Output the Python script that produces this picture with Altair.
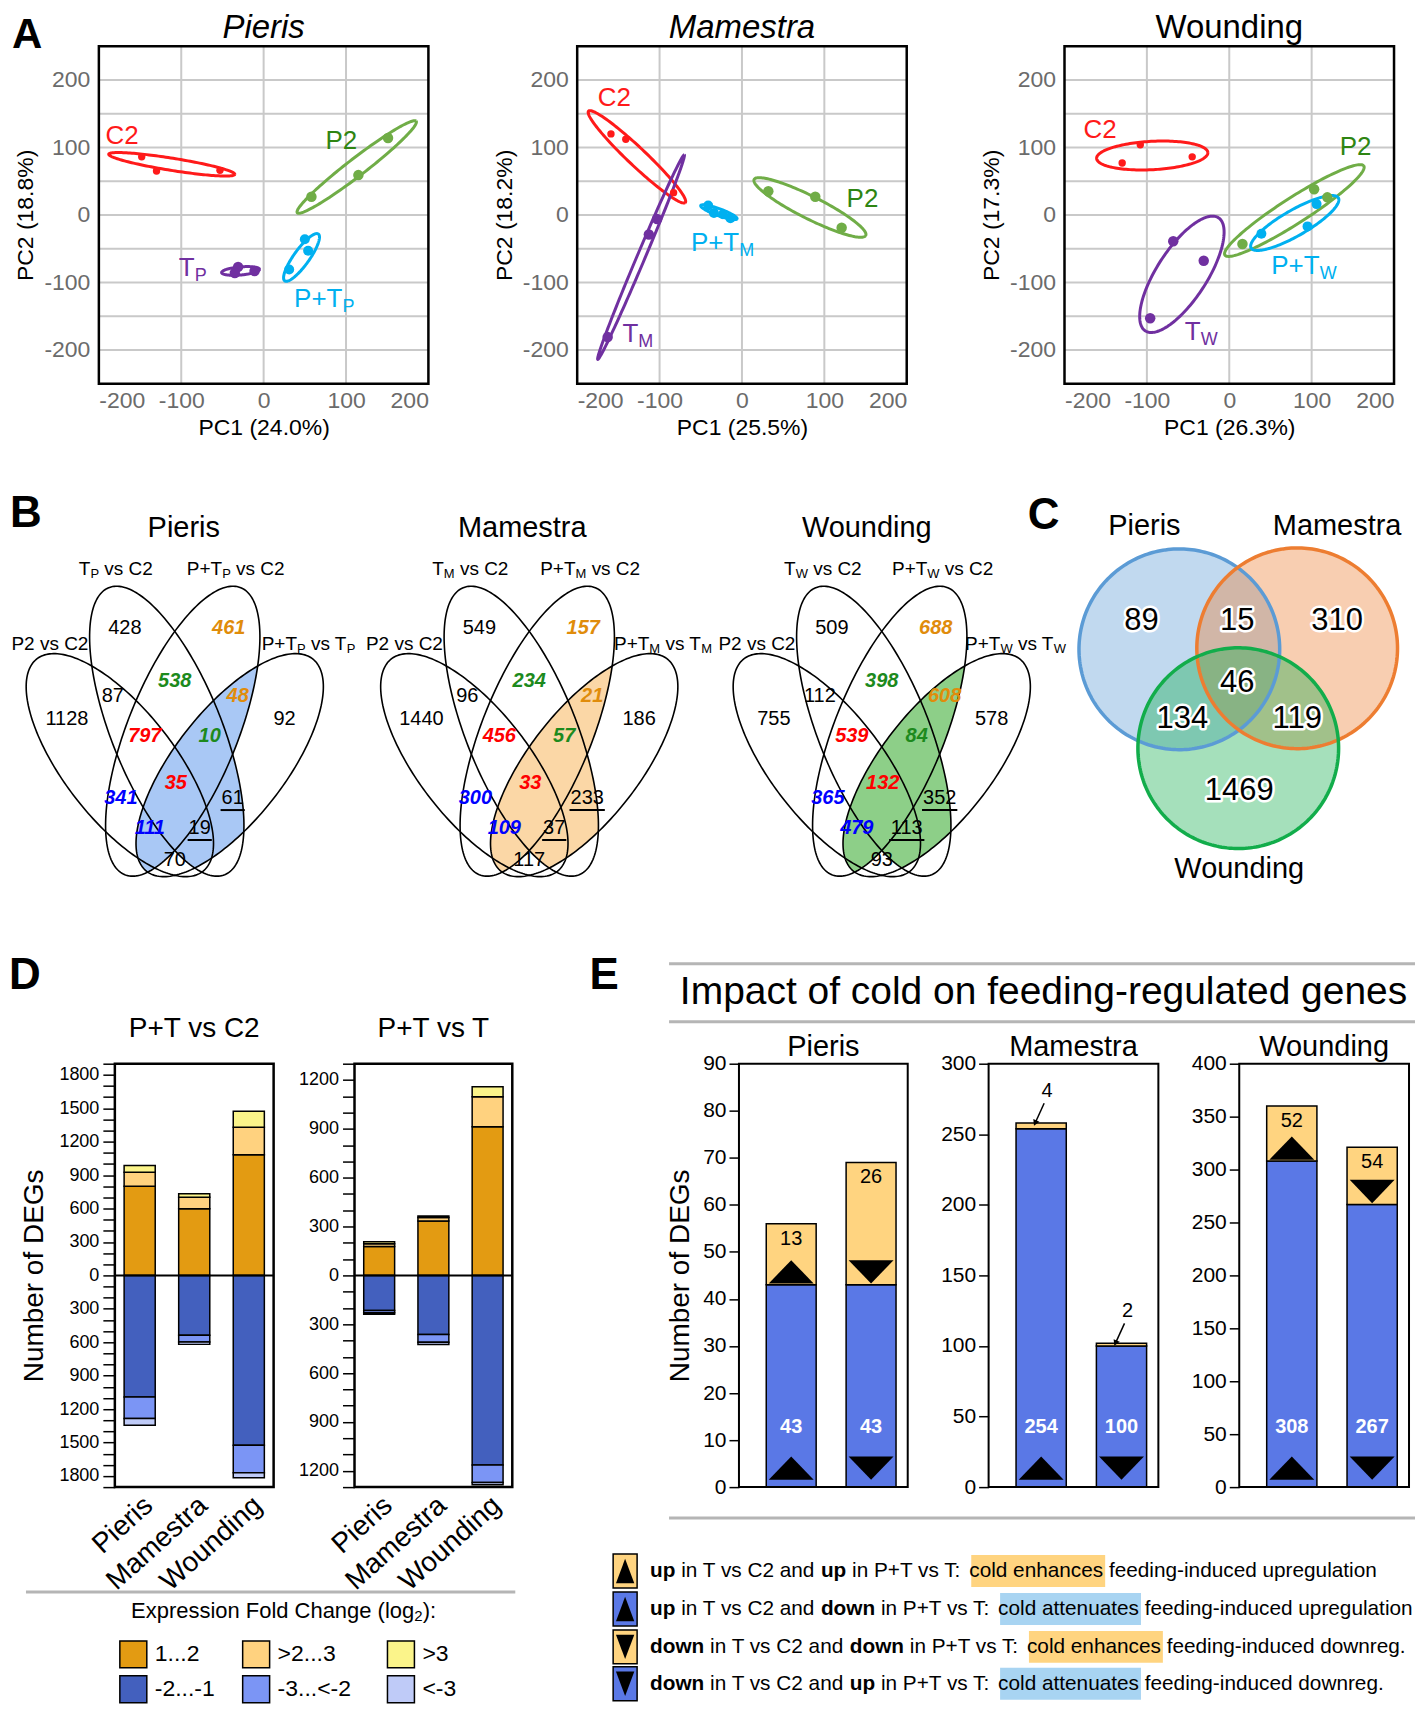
import numpy as np
import pandas as pd
import altair as alt

FONT = "Liberation Sans"

# ------------------------------------------------------------------ text metrics (Arial / Liberation Sans)
_W = {' ': 278, '!': 278, '%': 889, '(': 333, ')': 333, '+': 584, ',': 278, '-': 333, '.': 278, '/': 278,
      ':': 278, '<': 584, '>': 584, 'A': 667, 'B': 667, 'C': 722, 'D': 722, 'E': 667, 'F': 611, 'G': 778,
      'H': 722, 'I': 278, 'J': 500, 'K': 667, 'L': 556, 'M': 833, 'N': 722, 'O': 778, 'P': 667, 'R': 722,
      'S': 667, 'T': 611, 'U': 722, 'V': 667, 'W': 944, 'a': 556, 'b': 556, 'c': 500, 'd': 556, 'e': 556,
      'f': 278, 'g': 556, 'h': 556, 'i': 222, 'j': 222, 'k': 500, 'l': 222, 'm': 833, 'n': 556, 'o': 556,
      'p': 556, 'q': 556, 'r': 333, 's': 500, 't': 278, 'u': 556, 'v': 500, 'w': 722, 'x': 500, 'y': 500}
for _d in '0123456789':
    _W[_d] = 556
_WB = {'u': 611, 'p': 611, 'd': 611, 'o': 611, 'w': 778, 'n': 611, ' ': 278}


def tw(s, size, bold=False):
    tab = _WB if bold else _W
    return sum(tab.get(c, _W.get(c, 556)) for c in s) * size / 1000.0


# ================================================================== DATA
# ---------------- A: PCA
PCA_PANELS = ["Pieris", "Mamestra", "Wounding"]
PCA_ITALIC = [True, True, False]
PC1_TITLES = ["PC1 (24.0%)", "PC1 (25.5%)", "PC1 (26.3%)"]
PC2_TITLES = ["PC2 (18.8%)", "PC2 (18.2%)", "PC2 (17.3%)"]
PCA_SUBS = ["P", "M", "W"]
GROUPS = ["C2", "P2", "T", "PT"]
LABEL_MAIN = {"C2": "C2", "P2": "P2", "T": "T", "PT": "P+T"}
POINT_COL = {"C2": "#ff1a1a", "P2": "#70ad47", "T": "#7030a0", "PT": "#00b0f0"}
LABEL_COL = {"C2": "#ff1a1a", "P2": "#2e8512", "T": "#7030a0", "PT": "#00b0f0"}
POINT_SIZE = {"C2": 55, "P2": 110, "T": 110, "PT": 100}

PIERIS_PC1 = {"C2": [-148, -130, -53], "P2": [58, 115, 151], "T": [-31, -35, -11], "PT": [50, 54, 31]}
PIERIS_PC2 = {"C2": [86, 65, 66], "P2": [27, 59, 114], "T": [-77, -86, -83], "PT": [-36, -53, -81]}
MAMESTRA_PC1 = {"C2": [-159, -141, -83], "P2": [32, 89, 121], "T": [-163, -113, -103], "PT": [-41, -34, -23, -14]}
MAMESTRA_PC2 = {"C2": [120, 112, 33], "P2": [35, 27, -19], "T": [-181, -29, -6], "PT": [14, 3, 1, -5]}
WOUNDING_PC1 = {"C2": [-130, -108, -45], "P2": [16, 103, 119], "T": [-68, -31, -96], "PT": [39, 95, 106]}
WOUNDING_PC2 = {"C2": [77, 104, 86], "P2": [-43, 38, 26], "T": [-39, -68, -153], "PT": [-28, -17, 16]}

# group ellipses: centre x, centre y, half major axis vector (x, y), half minor axis
PIERIS_ELL = {"C2": (-111.5, 75, 76.5, -15, 9), "P2": (113, 71, 72, 68, 12),
              "T": (-28, -83, 23, 2.5, 6), "PT": (46, -63, 20, 35, 10)}
MAMESTRA_ELL = {"C2": (-127.5, 86, 58.5, -68, 12), "P2": (82.5, 11, 67.5, -42, 16),
                "T": (-122.5, -62.5, 52.5, 151.5, 5), "PT": (-28, 4, 22, -10, 5)}
WOUNDING_ELL = {"C2": (-93.5, 88, 67.5, 4.5, 21), "P2": (79, 6.5, 84, 66.5, 18),
                "T": (-57.5, -88, 42.5, 85, 32), "PT": (79.5, -12, 52.5, 38, 18)}
# group label anchors (left edge, middle)
PIERIS_LAB = {"C2": (-192, 117), "P2": (75, 109), "T": (-103, -79), "PT": (37, -125)}
MAMESTRA_LAB = {"C2": (-175, 173), "P2": (127, 24), "T": (-145, -177), "PT": (-62, -42)}
WOUNDING_LAB = {"C2": (-177, 126), "P2": (134, 100), "T": (-54, -173), "PT": (51, -75)}

PCA_PC1 = [PIERIS_PC1, MAMESTRA_PC1, WOUNDING_PC1]
PCA_PC2 = [PIERIS_PC2, MAMESTRA_PC2, WOUNDING_PC2]
PCA_ELL = [PIERIS_ELL, MAMESTRA_ELL, WOUNDING_ELL]
PCA_LAB = [PIERIS_LAB, MAMESTRA_LAB, WOUNDING_LAB]

# ---------------- B: four-set Venn diagrams
VENN_TITLES = ["Pieris", "Mamestra", "Wounding"]
VENN_SUB = ["P", "M", "W"]
VENN_COUNTS = {
    "Pieris": [428, 461, 1128, 87, 538, 48, 92, 797, 10, 35, 341, 61, 111, 19, 70],
    "Mamestra": [549, 157, 1440, 96, 234, 21, 186, 456, 57, 33, 300, 233, 109, 37, 117],
    "Wounding": [509, 688, 755, 112, 398, 608, 578, 539, 84, 132, 365, 352, 479, 113, 93],
}
REGION_STYLE = ["k", "o", "k", "k", "g", "o", "k", "r", "g", "r", "b", "u", "b", "u", "k"]
STYLE_COLOR = {"k": "black", "u": "black", "o": "#e08c0b", "g": "#1d8a1d", "r": "#ff0000", "b": "#0000ff"}
VENN_SHADE = ["#a9c8f5", "#fbd7a6", "#8dcf88"]

# ---------------- C: three-set Venn
C_SETS = ["Pieris", "Mamestra", "Wounding"]
C_COUNTS = [89, 310, 1469, 15, 134, 119, 46]
C_COLORS = ["#5b9bd5", "#ed7d31", "#12ad4b"]

# ---------------- D: fold change classes
D_CATS = ["Pieris", "Mamestra", "Wounding"]
D_CLASSES = ["1...2", ">2...3", ">3", "-2...-1", "-3...<-2", "<-3"]
D_CLASS_COL = ["#e39b12", "#ffd27f", "#fbf48a", "#4360be", "#7b95f5", "#bfcbf8"]
D_PT_C2 = {"Pieris": [801, 125, 60, 1091, 194, 60],
           "Mamestra": [598, 104, 30, 538, 60, 21],
           "Wounding": [1082, 248, 143, 1524, 248, 45]}
D_PT_T = {"Pieris": [178, 17, 12, 215, 14, 9],
          "Mamestra": [334, 21, 10, 363, 47, 15],
          "Wounding": [913, 184, 62, 1165, 107, 14]}
D_TITLES = ["P+T vs C2", "P+T vs T"]

# ---------------- E: impact of cold
E_PANELS = ["Pieris", "Mamestra", "Wounding"]
E_BLUE = [[43, 43], [254, 100], [308, 267]]
E_YELLOW = [[13, 26], [4, 2], [52, 54]]
E_YMAX = [90, 300, 400]
E_YSTEP = [10, 50, 50]
E_BARS = ["b1", "b2"]
E_BLUE_C = "#5a78e6"
E_YEL_C = "#ffd480"
E_TRI_UP = "M-1,0.52L0,-0.52L1,0.52Z"
E_TRI_DN = "M-1,-0.52L0,0.52L1,-0.52Z"

LEG_E_ROWS = [
    [("up", 1, None), (" in T vs C2 and ", 0, None), ("up", 1, None), (" in P+T vs T: ", 0, None),
     ("cold enhances", 0, "#ffd480"), (" feeding-induced upregulation", 0, None)],
    [("up", 1, None), (" in T vs C2 and ", 0, None), ("down", 1, None), (" in P+T vs T: ", 0, None),
     ("cold attenuates", 0, "#a8d4f2"), (" feeding-induced upregulation", 0, None)],
    [("down", 1, None), (" in T vs C2 and ", 0, None), ("down", 1, None), (" in P+T vs T: ", 0, None),
     ("cold enhances", 0, "#ffd480"), (" feeding-induced downreg.", 0, None)],
    [("down", 1, None), (" in T vs C2 and ", 0, None), ("up", 1, None), (" in P+T vs T: ", 0, None),
     ("cold attenuates", 0, "#a8d4f2"), (" feeding-induced downreg.", 0, None)],
]
LEG_E_ICON = [(E_YEL_C, "up"), (E_BLUE_C, "up"), (E_YEL_C, "dn"), (E_BLUE_C, "dn")]

# ================================================================== LAYOUT (pixels of the reference page)
PAGE = 8                  # page margin: canvas pixel = page pixel - 8
ROW_W = 1409              # page is 1425 wide: 8 px margin on both sides
X_DOM = [PAGE, PAGE + ROW_W]
HEAD_TOP, A_TOP = 8, 44
A_W, A_H = 330, 338
A_X = [98, 577, 1065]
VENN_AXIS_X = [174, 529, 882]
# four ellipses: dx from the diagram's centre line, centre y, semi-major, semi-minor, tilt, side
VENN_ELL = [(-55, 764, 135, 55.2, 38.0, 1), (-8, 730, 155, 55, 22.0, 1),
            (8, 730, 155, 55, 22.0, -1), (55, 764, 135, 55.2, 38.0, -1)]
REGION_DX = [-50, 54, -108, -62, 0, 63, 110, -30, 35, 1, -54, 58, -25, 25, 0]
REGION_Y = [627, 627, 718, 695, 680, 695, 718, 735, 735, 782, 797, 797, 827, 827, 859]
SET_LABEL_DX = [-125, -59, 61, 134]
SET_LABEL_Y = [643, 568, 568, 643]
C_CX = [1180, 1298, 1239]
C_CY = [648, 647, 747]
C_R = 100.5
C_POS = [(1142, 620), (1338, 620), (1240, 790), (1238, 620), (1183, 718), (1298, 718), (1238, 682)]
BC_TOP, BC_BOT = A_TOP + A_H, 1063
D_X = [114, 354]
D_W = [159, 158]
E_X = [739, 989, 1240]
E_W = [169, 170, 170]
E_PAD_IN, E_PAD_OUT, E_ALIGN = 0.375, 0.244, 0.70
PLOT_H = 424
LG_TOP, LG_BOT = BC_BOT + PLOT_H, 1704
LEG_E_Y = [1571, 1609, 1647, 1684]
LEG_E_FS = 20.8
SQ_X = [119, 242, 387]
SQ_Y = [1641, 1676]
SQ = 27


# ================================================================== helpers
def frame(x0, w, h, sw=2.0):
    return alt.Chart(pd.DataFrame({"k": [0]})).mark_rect(fill="transparent", stroke="black", strokeWidth=sw).encode(
        x=alt.value(x0), x2=alt.value(x0 + w), y=alt.value(0), y2=alt.value(h))


def ellipse_pts(cx, cy, hx, hy, b, n=161):
    t = np.linspace(0, 2 * np.pi, n)
    L = np.hypot(hx, hy)
    nx, ny = -hy / L, hx / L
    return cx + np.cos(t) * hx + np.sin(t) * b * nx, cy + np.cos(t) * hy + np.sin(t) * b * ny


def venn_vec(tilt, side):
    th = np.radians(tilt)
    return np.array([side * np.sin(th), np.cos(th)]), np.array([np.cos(th), -side * np.sin(th)])


def venn_interval(x, cx, cy, a, b, d, nv):
    u = x - cx
    A = d[1] ** 2 / a ** 2 + nv[1] ** 2 / b ** 2
    B = 2 * u * (d[0] * d[1] / a ** 2 + nv[0] * nv[1] / b ** 2)
    C = u ** 2 * (d[0] ** 2 / a ** 2 + nv[0] ** 2 / b ** 2) - 1
    disc = B ** 2 - 4 * A * C
    ok = disc >= 0
    sq = np.sqrt(np.where(ok, disc, 0))
    return cy + (-B - sq) / (2 * A), cy + (-B + sq) / (2 * A), ok


def text_layers(df, X, Y):
    out = []
    for (wt, st, al), sub in df.groupby(["wt", "st", "al"]):
        out.append(alt.Chart(sub.reset_index(drop=True)).mark_text(
            font=FONT, fontWeight=wt, fontStyle=st, align=al, baseline="middle").encode(
            X, Y, text="t:N", size=alt.Size("fs:Q", scale=None), color=alt.Color("col:N", scale=None)))
    return out


def trow(x, y, t, fs, col="black", wt="normal", st="normal", al="center"):
    return dict(x=float(x), y=float(y), t=str(t), fs=float(fs), col=col, wt=wt, st=st, al=al)


def frag_rows(frags, x0, y, col="black"):
    """Left-aligned text fragments (text, size, bold, dy); leading spaces become offsets."""
    out = []
    xx = x0
    for f, fs, bold, dy in frags:
        lead = len(f) - len(f.lstrip(" "))
        core = f.strip(" ")
        out.append(trow(xx + tw(" " * lead, fs, bold), y + dy, core, fs, col,
                        "bold" if bold else "normal", "normal", "left"))
        xx += tw(f, fs, bold)
    return out, xx


def canvas_xy(top, bot):
    X = alt.X("x:Q", scale=alt.Scale(domain=X_DOM, nice=False, zero=False), axis=None)
    Y = alt.Y("y:Q", scale=alt.Scale(domain=[top, bot], nice=False, zero=False, reverse=True), axis=None)
    return X, Y


# ================================================================== HEADER ROW (letter A and PCA titles)
HX, HY = canvas_xy(HEAD_TOP, A_TOP)
head_txt = [trow(11, 33, "A", 42, wt="bold", al="left")]
for k in range(3):
    head_txt.append(trow(A_X[k] + A_W / 2, 26, PCA_PANELS[k], 33, st="italic" if PCA_ITALIC[k] else "normal"))
row_head = alt.layer(*text_layers(pd.DataFrame(head_txt), HX, HY)).properties(width=ROW_W, height=A_TOP - HEAD_TOP)


# ================================================================== ROW A  (one canvas, one scale pair per panel)
def pca_panel(k):
    x0 = A_X[k] - PAGE
    px_x, px_y = A_W / 400.0, A_H / 500.0
    prow, erow, lrow = [], [], []
    for g in GROUPS:
        for xv, yv in zip(PCA_PC1[k][g], PCA_PC2[k][g]):
            prow.append(dict(x=xv, y=yv, col=POINT_COL[g], sz=POINT_SIZE[g]))
        ex, ey = ellipse_pts(*PCA_ELL[k][g])
        for i, (a_, b_) in enumerate(zip(ex, ey)):
            erow.append(dict(x=a_, y=b_, i=i, g=g, col=POINT_COL[g]))
        lx, ly = PCA_LAB[k][g]
        main = LABEL_MAIN[g]
        lrow.append(dict(x=lx, y=ly, t=main, fs=26, col=LABEL_COL[g]))
        if g in ("T", "PT"):
            lrow.append(dict(x=lx + tw(main, 26) / px_x, y=ly - 8 / px_y, t=PCA_SUBS[k], fs=18, col=LABEL_COL[g]))
    grid = [dict(x=v, x2=v, y=-250, y2=250) for v in (-100, 0, 100)] + \
           [dict(x=-200, x2=200, y=v, y2=v) for v in range(-200, 201, 50)]
    X = alt.X("x:Q", scale=alt.Scale(domain=[-200, 200], range=[x0, x0 + A_W], nice=False, zero=False),
              axis=alt.Axis(orient="bottom", values=[-200, -100, 0, 100, 200], labelExpr="'' + datum.value",
                            title=PC1_TITLES[k], grid=False, domain=False, ticks=False, labelFontSize=23,
                            labelColor="#6b6b6b", titleFontSize=23, titleFontWeight="normal", titleColor="black",
                            labelPadding=6, titlePadding=4))
    Y = alt.Y("y:Q", scale=alt.Scale(domain=[-250, 250], range=[A_H, 0], nice=False, zero=False),
              axis=alt.Axis(orient="left", offset=-x0, values=[-200, -100, 0, 100, 200],
                            labelExpr="'' + datum.value", title=PC2_TITLES[k], grid=False, domain=False,
                            ticks=False, labelFontSize=23, labelColor="#6b6b6b", titleFontSize=23,
                            titleFontWeight="normal", titleColor="black", labelPadding=9, titlePadding=6))
    return alt.layer(
        alt.Chart(pd.DataFrame(grid)).mark_rule(color="#c9c9c9", strokeWidth=2).encode(X, Y, x2="x2:Q", y2="y2:Q"),
        alt.Chart(pd.DataFrame(erow)).mark_line(strokeWidth=3).encode(
            X, Y, order="i:Q", detail="g:N", color=alt.Color("col:N", scale=None)),
        alt.Chart(pd.DataFrame(prow)).mark_circle(opacity=1).encode(
            X, Y, color=alt.Color("col:N", scale=None), size=alt.Size("sz:Q", scale=None)),
        alt.Chart(pd.DataFrame(lrow)).mark_text(align="left", baseline="middle", font=FONT).encode(
            X, Y, text="t:N", color=alt.Color("col:N", scale=None), size=alt.Size("fs:Q", scale=None)),
        frame(x0, A_W, A_H, 2.5),
    )


row_a = alt.layer(pca_panel(0), pca_panel(1), pca_panel(2)).resolve_scale(
    x="independent", y="independent").properties(width=ROW_W, height=A_H)

# ================================================================== ROW B / C (annotation canvas in page pixels)
BX, BY = canvas_xy(BC_TOP, BC_BOT)
outline_rows, lens_rows, under_rows, texts = [], [], [], []
for v, name in enumerate(VENN_TITLES):
    ax = VENN_AXIS_X[v]
    params = []
    for e, (dx, cy, a, b, tilt, side) in enumerate(VENN_ELL):
        d, nv = venn_vec(tilt, side)
        params.append((ax + dx, cy, a, b, d, nv))
        t = np.linspace(0, 2 * np.pi, 220)
        xs = ax + dx + a * np.cos(t) * d[0] + b * np.sin(t) * nv[0]
        ys = cy + a * np.cos(t) * d[1] + b * np.sin(t) * nv[1]
        for i in range(len(t)):
            outline_rows.append(dict(x=xs[i], y=ys[i], i=i, e=f"{v}-{e}"))
    # shaded: (P+T vs T) inside (T vs C2 or P+T vs C2)
    xg = np.linspace(ax - 170, ax + 210, 800)
    lo4, hi4, ok4 = venn_interval(xg, *params[3])
    for inner in (1, 2):
        loi, hii, oki = venn_interval(xg, *params[inner])
        lo, hi = np.maximum(loi, lo4), np.minimum(hii, hi4)
        m = oki & ok4 & (lo < hi)
        for xx, l_, h_ in zip(xg[m], lo[m], hi[m]):
            lens_rows.append(dict(x=xx, y=l_, y2=h_, v=f"{name}-{inner}", col=VENN_SHADE[v]))
    for r, cnt in enumerate(VENN_COUNTS[name]):
        stl = REGION_STYLE[r]
        x0, y0 = ax + REGION_DX[r], REGION_Y[r]
        emph = stl in ("o", "g", "r", "b")
        texts.append(trow(x0, y0, cnt, 20, STYLE_COLOR[stl], "bold" if emph else "normal",
                          "italic" if emph else "normal"))
        if stl == "u":
            w = tw(str(cnt), 20)
            under_rows.append(dict(x=x0 - w / 2 - 1, x2=x0 + w / 2 + 1, y=y0 + 12))
    sub = VENN_SUB[v]
    frags_all = [[("P2 vs C2", 0)], [("T", 0), (sub, 1), (" vs C2", 0)],
                 [("P+T", 0), (sub, 1), (" vs C2", 0)], [("P+T", 0), (sub, 1), (" vs T", 0), (sub, 1)]]
    for j, frags in enumerate(frags_all):
        fr = [(f, 13 if s else 19, False, 5 if s else 0) for f, s in frags]
        total = sum(tw(f, fs) for f, fs, _, _ in fr)
        rows_, _ = frag_rows(fr, ax + SET_LABEL_DX[j] - total / 2, SET_LABEL_Y[j])
        texts += rows_
    texts.append(trow(ax + (9 if v == 0 else (-7 if v == 1 else -15)), 527, name, 29))

texts += [trow(25, 513, "B", 44, wt="bold"), trow(1044, 515, "C", 44, wt="bold"),
          trow(24, 975, "D", 44, wt="bold"), trow(604, 975, "E", 44, wt="bold"),
          trow(1145, 525, "Pieris", 29), trow(1338, 525, "Mamestra", 29), trow(1240, 868, "Wounding", 29),
          trow(D_X[0] + D_W[0] / 2, 1028, D_TITLES[0], 28), trow(D_X[1] + D_W[1] / 2, 1028, D_TITLES[1], 28),
          trow(1044, 991, "Impact of cold on feeding-regulated genes", 39),
          trow(E_X[0] + E_W[0] / 2, 1046, E_PANELS[0], 29), trow(E_X[1] + E_W[1] / 2, 1046, E_PANELS[1], 29),
          trow(E_X[2] + E_W[2] / 2, 1046, E_PANELS[2], 29)]

circ_rows, circ_line = [], []
for s in range(3):
    tt = np.linspace(0, np.pi, 160)
    xs = C_CX[s] - C_R * np.cos(tt)
    hh = np.sqrt(np.maximum(C_R ** 2 - (xs - C_CX[s]) ** 2, 0))
    for xx, h_ in zip(xs, hh):
        circ_rows.append(dict(x=xx, y=C_CY[s] - h_, y2=C_CY[s] + h_, s=C_SETS[s], col=C_COLORS[s]))
    t2 = np.linspace(0, 2 * np.pi, 240)
    for i, t_ in enumerate(t2):
        circ_line.append(dict(x=C_CX[s] + C_R * np.cos(t_), y=C_CY[s] + C_R * np.sin(t_), i=i, s=C_SETS[s],
                              col=C_COLORS[s]))
c_num = pd.DataFrame([dict(x=p[0], y=p[1], t=str(c)) for p, c in zip(C_POS, C_COUNTS)])
gray_bc = pd.DataFrame({"x": [669, 669], "x2": [1416, 1416], "y": [963, 1021]})

bc_layers = [
    alt.Chart(pd.DataFrame(lens_rows)).mark_area(opacity=1).encode(
        BX, BY, y2="y2:Q", detail="v:N", color=alt.Color("col:N", scale=None)),
    alt.Chart(pd.DataFrame(outline_rows)).mark_line(color="black", strokeWidth=1.6).encode(
        BX, BY, order="i:Q", detail="e:N"),
    alt.Chart(pd.DataFrame(under_rows)).mark_rule(color="black", strokeWidth=2).encode(BX, BY, x2="x2:Q"),
    alt.Chart(pd.DataFrame(circ_rows)).mark_area(opacity=0.38).encode(
        BX, BY, y2="y2:Q", detail="s:N", color=alt.Color("col:N", scale=None)),
    alt.Chart(pd.DataFrame(circ_line)).mark_line(strokeWidth=3.5).encode(
        BX, BY, order="i:Q", detail="s:N", color=alt.Color("col:N", scale=None)),
    alt.Chart(c_num).mark_text(font=FONT, fontSize=31, color="white", stroke="white", strokeWidth=5,
                               strokeJoin="round", baseline="middle").encode(BX, BY, text="t:N"),
    alt.Chart(c_num).mark_text(font=FONT, fontSize=31, color="black", baseline="middle").encode(
        BX, BY, text="t:N"),
    alt.Chart(gray_bc).mark_rule(color="#b5b5b5", strokeWidth=3).encode(BX, BY, x2="x2:Q"),
] + text_layers(pd.DataFrame(texts), BX, BY)
row_bc = alt.layer(*bc_layers).properties(width=ROW_W, height=BC_BOT - BC_TOP)


# ================================================================== ROW D / E (one canvas, one scale pair per panel)
def d_panel(j):
    x0 = D_X[j] - PAGE
    W = D_W[j]
    data = D_PT_C2 if j == 0 else D_PT_T
    dom = 1900 if j == 0 else 1300
    rows = []
    for cat in D_CATS:
        vals = data[cat]
        up = 0
        for c in range(3):
            rows.append(dict(cat=cat, y=up, y2=up + vals[c], col=D_CLASS_COL[c]))
            up += vals[c]
        dn = 0
        for c in range(3, 6):
            rows.append(dict(cat=cat, y=-dn, y2=-(dn + vals[c]), col=D_CLASS_COL[c]))
            dn += vals[c]
    X = alt.X("cat:N", sort=D_CATS, scale=alt.Scale(domain=D_CATS, range=[x0, x0 + W], paddingInner=0.43,
                                                    paddingOuter=0.17),
              axis=alt.Axis(orient="bottom", title=None, labelAngle=-42, labelFontSize=28, ticks=False,
                            domain=False, labelPadding=4, labelColor="black", labelLimit=400))
    ax_kw = dict(orient="left", offset=-x0, values=list(range(-dom, dom + 1, 100)),
                 labelExpr="datum.value % 300 == 0 ? '' + abs(datum.value) : ''",
                 tickSize=12, tickColor="black", tickWidth=1.5, domain=False, grid=False,
                 labelFontSize=18, labelColor="black", labelPadding=4)
    if j == 0:
        ax_kw.update(title="Number of DEGs", titleFontSize=28, titleFontWeight="normal", titleColor="black",
                     titlePadding=10)
    else:
        ax_kw.update(title=None)
    Y = alt.Y("y:Q", scale=alt.Scale(domain=[-dom, dom], range=[PLOT_H, 0], nice=False, zero=False),
              axis=alt.Axis(**ax_kw))
    bars = alt.Chart(pd.DataFrame(rows)).mark_bar(stroke="black", strokeWidth=1.5).encode(
        X, Y, y2="y2:Q", color=alt.Color("col:N", scale=None))
    zero = alt.Chart(pd.DataFrame({"y": [0]})).mark_rule(color="black", strokeWidth=2).encode(
        x=alt.value(x0), x2=alt.value(x0 + W), y=Y)
    return alt.layer(bars, zero, frame(x0, W, PLOT_H, 2.5))


def band_centers(width, n=2, pi=E_PAD_IN, po=E_PAD_OUT, align=E_ALIGN):
    step = width / (n - pi + 2 * po)
    start = (width - step * (n - pi)) * align
    bw = step * (1 - pi)
    return [start + step * i + bw / 2 for i in range(n)]


def e_panel(k):
    x0 = E_X[k] - PAGE
    W = E_W[k]
    blue, yel, ymax, step = E_BLUE[k], E_YELLOW[k], E_YMAX[k], E_YSTEP[k]
    X = alt.X("bar:N", sort=E_BARS, scale=alt.Scale(domain=E_BARS, range=[x0, x0 + W], paddingInner=E_PAD_IN,
                                                    paddingOuter=E_PAD_OUT, align=E_ALIGN), axis=None)
    ax_kw = dict(orient="left", offset=-x0, values=list(range(0, ymax + 1, step)), tickSize=10,
                 tickColor="black", tickWidth=1.5, domain=False, grid=False, labelFontSize=21,
                 labelColor="black", labelPadding=3)
    if k == 0:
        ax_kw.update(title="Number of DEGs", titleFontSize=28, titleFontWeight="normal", titleColor="black",
                     titlePadding=8)
    else:
        ax_kw.update(title=None)
    Y = alt.Y("y:Q", scale=alt.Scale(domain=[0, ymax], range=[PLOT_H, 0], nice=False, zero=False),
              axis=alt.Axis(**ax_kw))
    segs = pd.DataFrame({"bar": E_BARS * 2, "y": [0, 0, blue[0], blue[1]],
                         "y2": [blue[0], blue[1], blue[0] + yel[0], blue[1] + yel[1]],
                         "col": [E_BLUE_C, E_BLUE_C, E_YEL_C, E_YEL_C]})
    tri = 2025
    layers = [alt.Chart(segs).mark_bar(stroke="black", strokeWidth=1.5).encode(
        X, Y, y2="y2:Q", color=alt.Color("col:N", scale=None))]
    layers.append(alt.Chart(pd.DataFrame({"bar": ["b1"]})).mark_point(
        shape=E_TRI_UP, filled=True, color="black", size=tri, opacity=1).encode(X, y=alt.value(PLOT_H - 19)))
    layers.append(alt.Chart(pd.DataFrame({"bar": ["b2"]})).mark_point(
        shape=E_TRI_DN, filled=True, color="black", size=tri, opacity=1).encode(X, y=alt.value(PLOT_H - 19)))
    layers.append(alt.Chart(pd.DataFrame({"bar": E_BARS, "t": [str(b) for b in blue]})).mark_text(
        color="white", fontWeight="bold", fontSize=20, font=FONT, baseline="middle").encode(
        X, y=alt.value(PLOT_H - 60), text="t:N"))
    if k != 1:
        layers.append(alt.Chart(pd.DataFrame({"bar": E_BARS, "y": [blue[0] + yel[0], blue[1] + yel[1]],
                                              "t": [str(v) for v in yel]})).mark_text(
            color="black", fontSize=20, font=FONT, baseline="middle", dy=15).encode(X, Y, text="t:N"))
        layers.append(alt.Chart(pd.DataFrame({"bar": ["b1"], "y": [blue[0]]})).mark_point(
            shape=E_TRI_UP, filled=True, color="black", size=tri, opacity=1, yOffset=-13).encode(X, Y))
        layers.append(alt.Chart(pd.DataFrame({"bar": ["b2"], "y": [blue[1]]})).mark_point(
            shape=E_TRI_DN, filled=True, color="black", size=tri, opacity=1, yOffset=-13).encode(X, Y))
    else:
        cen = band_centers(W)
        for bi in range(2):
            top = blue[bi] + yel[bi]
            c = x0 + cen[bi]
            layers.append(alt.Chart(pd.DataFrame({"y": [top + 23], "t": [str(yel[bi])]})).mark_text(
                fontSize=20, font=FONT, baseline="middle").encode(x=alt.value(c + 6), y=Y, text="t:N"))
            layers.append(alt.Chart(pd.DataFrame({"y": [top + 14], "y2": [top]})).mark_rule(
                color="black", strokeWidth=1.5).encode(x=alt.value(c + 3), x2=alt.value(c - 6), y=Y, y2="y2:Q"))
            layers.append(alt.Chart(pd.DataFrame({"y": [top]})).mark_point(
                shape="triangle-down", angle=24, filled=True, color="black", size=45, opacity=1).encode(
                x=alt.value(c - 6), y=Y))
    layers.append(frame(x0, W, PLOT_H, 2.0))
    return alt.layer(*layers)


row_de = alt.layer(d_panel(0), d_panel(1), e_panel(0), e_panel(1), e_panel(2)).resolve_scale(
    x="independent", y="independent").properties(width=ROW_W, height=PLOT_H)

# ================================================================== LEGEND ROW
LX, LY = canvas_xy(LG_TOP, LG_BOT)
ltexts, rects, tri_up, tri_dn = [], [], [], []
frs = [("Expression Fold Change (log", 22, False, 0), ("2", 15, False, 5), ("):", 22, False, 0)]
tot = sum(tw(f, fs) for f, fs, _, _ in frs)
rows_, _ = frag_rows(frs, 283 - tot / 2, 1611)
ltexts += rows_
for c, (lab, col) in enumerate(zip(D_CLASSES, D_CLASS_COL)):
    cx0, cy0 = SQ_X[c % 3], SQ_Y[c // 3]
    rects.append(dict(x=cx0, x2=cx0 + SQ, y=cy0, y2=cy0 + SQ, col=col))
    ltexts.append(trow(cx0 + SQ + 8, cy0 + SQ / 2, lab, 23, al="left"))
hl_rows = []
for r, row in enumerate(LEG_E_ROWS):
    yc = LEG_E_Y[r]
    col, kind = LEG_E_ICON[r]
    rects.append(dict(x=613, x2=637, y=yc - 17, y2=yc + 17, col=col))
    (tri_up if kind == "up" else tri_dn).append(dict(x=625, y=yc))
    xx = 650
    for frag, bold, hl in row:
        w = tw(frag, LEG_E_FS, bool(bold))
        if hl:
            hl_rows.append(dict(x=xx + 2, x2=xx + w + 2, y=yc - 16, y2=yc + 16, col=hl))
        rows_, xx = frag_rows([(frag, LEG_E_FS, bool(bold), 0)], xx, yc)
        ltexts += rows_

gray_lg = pd.DataFrame({"x": [25, 669], "x2": [515, 1416], "y": [1592, 1518]})
lg_layers = [
    alt.Chart(gray_lg).mark_rule(color="#b5b5b5", strokeWidth=3).encode(LX, LY, x2="x2:Q"),
    alt.Chart(pd.DataFrame(hl_rows)).mark_rect().encode(LX, LY, x2="x2:Q", y2="y2:Q",
                                                          color=alt.Color("col:N", scale=None)),
    alt.Chart(pd.DataFrame(rects)).mark_rect(stroke="black", strokeWidth=1.5).encode(
        LX, LY, x2="x2:Q", y2="y2:Q", color=alt.Color("col:N", scale=None)),
    alt.Chart(pd.DataFrame(tri_up)).mark_point(shape="M-0.75,1L0,-1L0.75,1Z", filled=True, color="black",
                                               size=600, opacity=1).encode(LX, LY),
    alt.Chart(pd.DataFrame(tri_dn)).mark_point(shape="M-0.75,-1L0,1L0.75,-1Z", filled=True, color="black",
                                               size=600, opacity=1).encode(LX, LY),
] + text_layers(pd.DataFrame(ltexts), LX, LY)
row_lg = alt.layer(*lg_layers).properties(width=ROW_W, height=LG_BOT - LG_TOP)

# ================================================================== assemble
chart = alt.vconcat(row_head, row_a, row_bc, row_de, row_lg, spacing=0, bounds="flush").properties(
    padding=0).configure(font=FONT).configure_view(stroke="transparent")

chart.save("out.html", embed_options={"renderer": "svg", "actions": False})
